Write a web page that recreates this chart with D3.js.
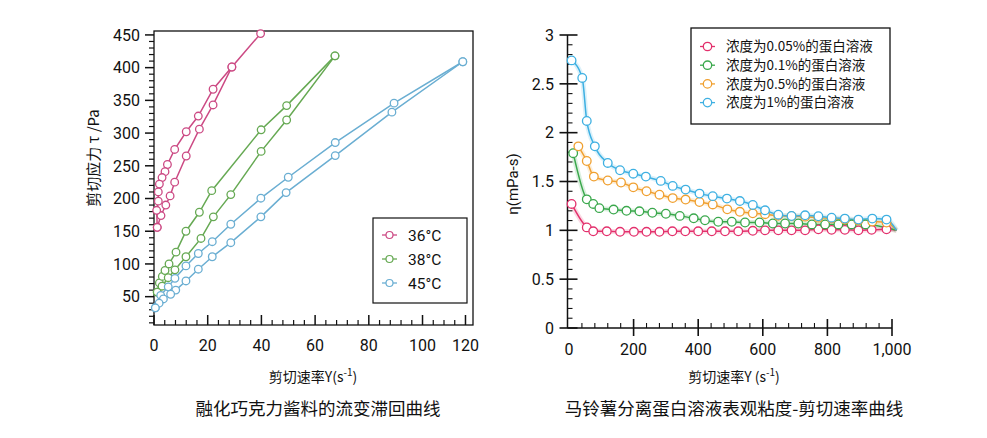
<!DOCTYPE html>
<html>
<head>
<meta charset="utf-8">
<script src="https://cdn.jsdelivr.net/npm/d3@7"></script>
<style>
  html, body { margin: 0; padding: 0; background: #fff; }
  svg { display: block; }
  text { font-family: Roboto, "Noto Sans CJK SC", sans-serif; fill: #111; }
  .cjk { font-family: "Noto Sans CJK SC", Roboto, sans-serif; }
</style>
</head>
<body>
<svg id="chart" width="987" height="438"></svg>
<script>
// ---------------- LEFT CHART DATA (剪切应力 vs 剪切速率) ----------------
const leftYTicks = [50, 100, 150, 200, 250, 300, 350, 400, 450];
const leftXTickValues = [0, 20, 40, 60, 80, 100, 116];
const leftXTickLabels = ["0", "20", "40", "60", "80", "100", "120"];
const leftSeriesNames = ["36°C", "38°C", "45°C"];

const pink36Up = [[1.2,156],[2.6,174],[4.4,190],[6,204],[7.7,225],[12,265],[16.9,306],[22,343],[29,401],[39.7,452]];
const pink36Down = [[29,401],[22,367],[16.5,326],[12,302],[7.7,275],[5,252],[4.1,241],[3,232],[2,222],[1.6,210],[1.6,196],[1,182],[1.2,156]];
const green38Up = [[1.2,57],[2,71],[3.1,81],[4.1,90],[5.6,100],[8.2,118],[11.9,150],[16.9,179],[21.5,212],[39.9,305],[49.4,342],[67.4,418]];
const green38Down = [[67.4,418],[49.4,320],[39.9,272],[28.6,206],[22.1,172],[17.5,139],[11.9,111],[7.8,91],[5.3,79],[3,66],[1.2,57]];
const blue45Up = [[0.5,33],[2.5,52],[5.3,65],[7.8,78],[11.9,97],[16.5,116],[21.7,134],[28.6,160.7],[39.8,200.5],[50,232.5],[67.5,285.5],[89.4,345.7],[115,409]];
const blue45Down = [[115,409],[88.6,332],[67.5,265.6],[49.2,209],[39.8,172],[28.6,132.5],[21.7,111],[16.5,92],[11.9,74],[8.1,60],[6.2,53.7],[3.5,46.5],[1.9,40],[0.5,33]];

// ---------------- RIGHT CHART DATA (表观粘度 vs 剪切速率) ----------------
const rightYTicks = [0, 0.5, 1, 1.5, 2, 2.5, 3];
const rightXTicks = [0, 200, 400, 600, 800, 1000];
const rightSeriesNames = ["浓度为0.05%的蛋白溶液", "浓度为0.1%的蛋白溶液", "浓度为0.5%的蛋白溶液", "浓度为1%的蛋白溶液"];

const conc005 = [[8,1.27],[55,1.03],[75,0.99],[117,0.99],[158,0.985],[201,0.985],[240,0.985],[280,0.985],[320,0.99],[360,0.99],[400,0.99],[442,0.99],[483,0.99],[524,0.99],[569,0.995],[607,1.0],[648,1.0],[689,1.0],[731,1.0],[772,1.01],[813,1.005],[854,1.005],[896,1.0],[937,1.005],[983,1.01],[1014,1.0]];
const conc01 = [[13,1.79],[55,1.317],[75,1.27],[94,1.227],[138,1.213],[178,1.2],[218,1.195],[258,1.18],[300,1.17],[343,1.148],[386,1.123],[421,1.103],[462,1.088],[504,1.088],[545,1.08],[590,1.08],[631,1.07],[669,1.07],[710,1.07],[752,1.06],[793,1.06],[834,1.06],[875,1.06],[918,1.06],[1014,1.0]];
const conc05 = [[29,1.86],[55,1.71],[77,1.55],[120,1.51],[161,1.49],[199,1.44],[240,1.4],[280,1.365],[321,1.33],[361,1.315],[404,1.29],[445,1.265],[490,1.215],[529,1.19],[569,1.174],[607,1.165],[648,1.15],[689,1.145],[731,1.14],[772,1.13],[813,1.12],[854,1.11],[896,1.1],[939,1.09],[983,1.08],[1014,1.0]];
const conc1 = [[8,2.74],[41,2.56],[55,2.12],[80,1.86],[120,1.69],[158,1.615],[199,1.58],[238,1.55],[284,1.506],[321,1.455],[361,1.417],[404,1.376],[445,1.35],[489,1.325],[529,1.3],[569,1.26],[607,1.205],[648,1.16],[689,1.147],[731,1.154],[772,1.144],[813,1.13],[854,1.12],[896,1.11],[939,1.12],[983,1.11],[1014,1.0]];

const leftColors = ["#cc4a84", "#66a953", "#6aaed2"];
const rightColors = ["#e3306c", "#3aa84c", "#f0a030", "#3eb0e2"];

const svg = d3.select("#chart");

// ================= LEFT CHART =================
const xL = d3.scaleLinear().domain([0, 118.8]).range([154, 473]);
const yL = d3.scaleLinear().domain([6.7, 456]).range([325, 31]);
const gL = svg.append("g");

gL.append("rect").attr("x", xL(0)).attr("y", yL(456)).attr("width", xL(118.8) - xL(0)).attr("height", yL(6.7) - yL(456))
  .attr("fill", "none").attr("stroke", "#111").attr("stroke-width", 1.3);

const yMinorL = d3.range(10, 451, 10).filter(v => v % 50 !== 0);
gL.selectAll(".yminL").data(yMinorL).join("line")
  .attr("x1", xL(0) - 5).attr("x2", xL(0)).attr("y1", d => yL(d)).attr("y2", d => yL(d))
  .attr("stroke", "#111").attr("stroke-width", 1.2);
gL.selectAll(".ymajL").data(leftYTicks).join("line")
  .attr("x1", xL(0) - 9).attr("x2", xL(0)).attr("y1", d => yL(d)).attr("y2", d => yL(d))
  .attr("stroke", "#111").attr("stroke-width", 1.5);
gL.selectAll(".ylabL").data(leftYTicks).join("text")
  .attr("x", 140).attr("y", d => yL(d)).attr("dy", "0.36em").attr("text-anchor", "end")
  .attr("font-size", 16).text(d => d);

const xMinorL = d3.range(4, 116, 4).filter(v => v % 20 !== 0);
gL.selectAll(".xminL").data(xMinorL).join("line")
  .attr("x1", d => xL(d)).attr("x2", d => xL(d)).attr("y1", yL(6.7)).attr("y2", yL(6.7) - 5)
  .attr("stroke", "#111").attr("stroke-width", 1.2);
gL.selectAll(".xmajL").data(leftXTickValues).join("line")
  .attr("x1", d => xL(d)).attr("x2", d => xL(d)).attr("y1", yL(6.7)).attr("y2", yL(6.7) - 10)
  .attr("stroke", "#111").attr("stroke-width", 1.5);
gL.selectAll(".xlabL").data(leftXTickValues).join("text")
  .attr("x", d => xL(d)).attr("y", 351).attr("text-anchor", "middle")
  .attr("font-size", 16).text((d, i) => leftXTickLabels[i]);

const lineL = d3.line().x(d => xL(d[0])).y(d => yL(d[1]));
const leftSeries = [[pink36Up, pink36Down], [green38Up, green38Down], [blue45Up, blue45Down]];
leftSeries.forEach((branches, si) => {
  branches.forEach(br => {
    gL.append("path").attr("d", lineL(br)).attr("fill", "none")
      .attr("stroke", leftColors[si]).attr("stroke-width", 1.5);
  });
  branches.forEach(br => {
    gL.selectAll(null).data(br).join("circle")
      .attr("cx", d => xL(d[0])).attr("cy", d => yL(d[1])).attr("r", 3.8)
      .attr("fill", "#fff").attr("stroke", leftColors[si]).attr("stroke-width", 1.3);
  });
});

gL.append("rect").attr("x", 373).attr("y", 218).attr("width", 94).attr("height", 85)
  .attr("fill", "#fff").attr("stroke", "#111").attr("stroke-width", 1.2);
leftSeriesNames.forEach((name, i) => {
  const cy = 235 + i * 24;
  gL.append("line").attr("x1", 382).attr("x2", 397).attr("y1", cy).attr("y2", cy)
    .attr("stroke", leftColors[i]).attr("stroke-width", 1.3);
  gL.append("circle").attr("cx", 389.5).attr("cy", cy).attr("r", 3.5)
    .attr("fill", "#fff").attr("stroke", leftColors[i]).attr("stroke-width", 1.2);
  gL.append("text").attr("x", 408).attr("y", cy).attr("dy", "0.36em").attr("font-size", 15.5).text(name);
});

gL.append("text").attr("class", "cjk").attr("x", -158).attr("y", 99).attr("transform", "rotate(-90)")
  .attr("text-anchor", "middle").attr("font-size", 15).text("剪切应力  τ /Pa");
const xtL = gL.append("text").attr("class", "cjk").attr("x", 313).attr("y", 382).attr("text-anchor", "middle").attr("font-size", 14);
xtL.append("tspan").text("剪切速率Y(s");
xtL.append("tspan").attr("dy", -6).attr("font-size", 10).text("-1");
xtL.append("tspan").attr("dy", 6).text(")");
gL.append("text").attr("class", "cjk").attr("x", 318).attr("y", 415).attr("text-anchor", "middle")
  .attr("font-size", 17.5).text("融化巧克力酱料的流变滞回曲线");

// ================= RIGHT CHART =================
const xR = d3.scaleLinear().domain([0, 1000]).range([569, 892]);
const yR = d3.scaleLinear().domain([0, 3]).range([328, 35]);
const gR = svg.append("g");
const axX = 567.5;

gR.append("line").attr("x1", axX).attr("x2", axX).attr("y1", yR(3)).attr("y2", yR(0)).attr("stroke", "#111").attr("stroke-width", 1.5);
gR.append("line").attr("x1", axX).attr("x2", xR(1000)).attr("y1", yR(0)).attr("y2", yR(0)).attr("stroke", "#111").attr("stroke-width", 1.5);

const yMinorR = d3.range(0.1, 3.0, 0.1).filter(v => Math.abs(v * 2 - Math.round(v * 2)) > 1e-6);
gR.selectAll(".yminR").data(yMinorR).join("line")
  .attr("x1", axX).attr("x2", axX + 5).attr("y1", d => yR(d)).attr("y2", d => yR(d))
  .attr("stroke", "#111").attr("stroke-width", 1.1);
gR.selectAll(".ymajR").data(rightYTicks).join("line")
  .attr("x1", axX - 8).attr("x2", axX + 10).attr("y1", d => yR(d)).attr("y2", d => yR(d))
  .attr("stroke", "#111").attr("stroke-width", 1.6);
gR.selectAll(".ylabR").data(rightYTicks).join("text")
  .attr("x", 554).attr("y", d => yR(d)).attr("dy", "0.36em").attr("text-anchor", "end")
  .attr("font-size", 16).text(d => d);

const xMinorR = d3.range(40, 1000, 40).filter(v => v % 200 !== 0);
gR.selectAll(".xminR").data(xMinorR).join("line")
  .attr("x1", d => xR(d)).attr("x2", d => xR(d)).attr("y1", yR(0)).attr("y2", yR(0) - 5)
  .attr("stroke", "#111").attr("stroke-width", 1.1);
gR.selectAll(".xmajR").data(rightXTicks.filter(v => v > 0)).join("line")
  .attr("x1", d => xR(d)).attr("x2", d => xR(d)).attr("y1", yR(0) - 9).attr("y2", yR(0) + 8)
  .attr("stroke", "#111").attr("stroke-width", 1.6);
gR.selectAll(".xlabR").data(rightXTicks).join("text")
  .attr("x", d => xR(d)).attr("y", 355).attr("text-anchor", "middle")
  .attr("font-size", 16).text(d => d3.format(",")(d));

const lineR = d3.line().curve(d3.curveMonotoneX).x(d => xR(d[0])).y(d => yR(d[1]));
const rightSeries = [conc005, conc01, conc05, conc1];
rightSeries.forEach((s, i) => {
  gR.append("path").attr("d", lineR(s)).attr("fill", "none")
    .attr("stroke", rightColors[i]).attr("stroke-opacity", 0.18).attr("stroke-width", 5);
});
rightSeries.forEach((s, i) => {
  gR.append("path").attr("d", lineR(s)).attr("fill", "none")
    .attr("stroke", rightColors[i]).attr("stroke-width", 1.5);
});
rightSeries.forEach((s, i) => {
  gR.selectAll(null).data(s.slice(0, -1)).join("circle")
    .attr("cx", d => xR(d[0])).attr("cy", d => yR(d[1])).attr("r", 4.3)
    .attr("fill", "#fff").attr("stroke", rightColors[i]).attr("stroke-width", 1.3);
});

gR.append("rect").attr("x", 691).attr("y", 28).attr("width", 199).attr("height", 96)
  .attr("fill", "#fff").attr("stroke", "#111").attr("stroke-width", 1.3);
rightSeriesNames.forEach((name, i) => {
  const cy = 46.5 + i * 18.7;
  gR.append("line").attr("x1", 700).attr("x2", 715).attr("y1", cy).attr("y2", cy)
    .attr("stroke", rightColors[i]).attr("stroke-width", 1.3);
  gR.append("circle").attr("cx", 707.5).attr("cy", cy).attr("r", 4.2)
    .attr("fill", "#fff").attr("stroke", rightColors[i]).attr("stroke-width", 1.3);
  gR.append("text").attr("class", "cjk").attr("x", 726).attr("y", cy).attr("dy", "0.36em")
    .attr("font-size", 13.5).text(name);
});

gR.append("text").attr("x", -184).attr("y", 518).attr("transform", "rotate(-90)")
  .attr("text-anchor", "middle").attr("font-size", 15).text("η(mPa-s)");
const xtR = gR.append("text").attr("class", "cjk").attr("x", 734).attr("y", 382).attr("text-anchor", "middle").attr("font-size", 14);
xtR.append("tspan").text("剪切速率Y (s");
xtR.append("tspan").attr("dy", -6).attr("font-size", 10).text("-1");
xtR.append("tspan").attr("dy", 6).text(")");
gR.append("text").attr("class", "cjk").attr("x", 734).attr("y", 415).attr("text-anchor", "middle")
  .attr("font-size", 17.5).text("马铃薯分离蛋白溶液表观粘度-剪切速率曲线");
</script>
</body>
</html>
